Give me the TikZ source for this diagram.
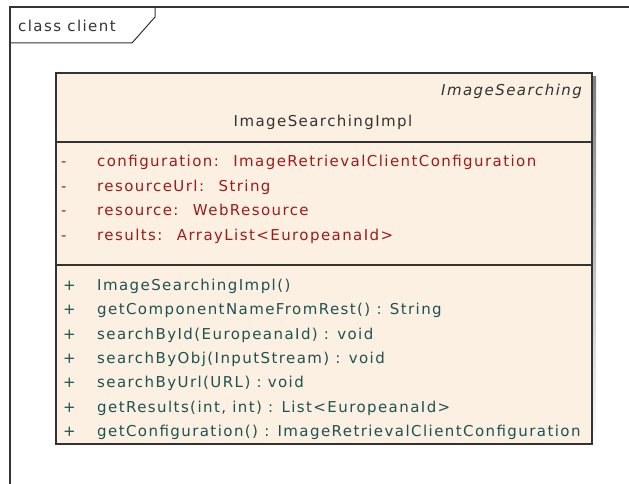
\documentclass[tikz,border=0pt]{standalone}
\usepackage{fontspec}
\setmainfont{DejaVu Sans}[LetterSpace=9.5]
\usetikzlibrary{positioning}
\definecolor{ink}{HTML}{333333}
\definecolor{classfill}{HTML}{FBF0E2}
\definecolor{shade}{HTML}{BEBEBE}
\definecolor{attrink}{HTML}{9E1B1B}
\definecolor{opink}{HTML}{1F5252}
\newcommand{\umlsize}{\fontsize{15}{17}\selectfont}
\tikzset{
 every node/.append style={font=\umlsize,text=ink,inner sep=0pt,text height=11pt,text depth=3pt},
 compart/.style={draw=ink,fill=classfill,line width=1.6pt,inner sep=0pt,minimum width=536pt,anchor=north west},
 frameline/.style={draw=ink,line width=1.5pt},
 member/.style={anchor=west},
 attr/.style={member,text=attrink},
 oper/.style={member,text=opink},
}

\begin{document}
\begin{tikzpicture}[x=1pt,y=-1pt]
\useasboundingbox (0,0) rectangle (629,484);

% diagram frame and its tab
\draw[frameline] (10,484) -- (10,7) -- (630,7);
\draw[draw=ink,line width=1pt] (10,43) -- (132,43) -- (155,17) -- (155,7);
\node[anchor=west] (title) at (18,27.5) {class client};

% class box
\fill[shade] (60,77) rectangle (596,448);
\node[compart,minimum height=69pt] (head) at (55,72) {};
\node[compart,minimum height=123pt] (attrs) at (55,141) {};
\node[compart,minimum height=179pt] (ops) at (55,264) {};

\node[anchor=east,font=\umlsize\itshape] (stereo) at (582,91.5) {ImageSearching};
\node (cname) at (323,122.5) {ImageSearchingImpl};

\foreach \txt [count=\i] in {
  {configuration:~ ImageRetrievalClientConfiguration},
  {resourceUrl:~ String},
  {resource:~ WebResource},
  {results:~ ArrayList<EuropeanaId>}} {
  \node[attr] (vis\i) at (61,{138+24.5*\i}) {-};
  \node[attr] (attr\i) at (97,{138+24.5*\i}) {\txt};
}

\foreach \txt [count=\i] in {
  {ImageSearchingImpl()},
  {getComponentNameFromRest() : String},
  {searchById(EuropeanaId) : void},
  {searchByObj(InputStream) : void},
  {searchByUrl(URL) : void},
  {getResults(int, int) : List<EuropeanaId>},
  {getConfiguration() : ImageRetrievalClientConfiguration}} {
  \node[oper] (pub\i) at (63,{262.2+24.33*\i}) {+};
  \node[oper] (op\i) at (97,{262.2+24.33*\i}) {\txt};
}
\end{tikzpicture}
\end{document}
